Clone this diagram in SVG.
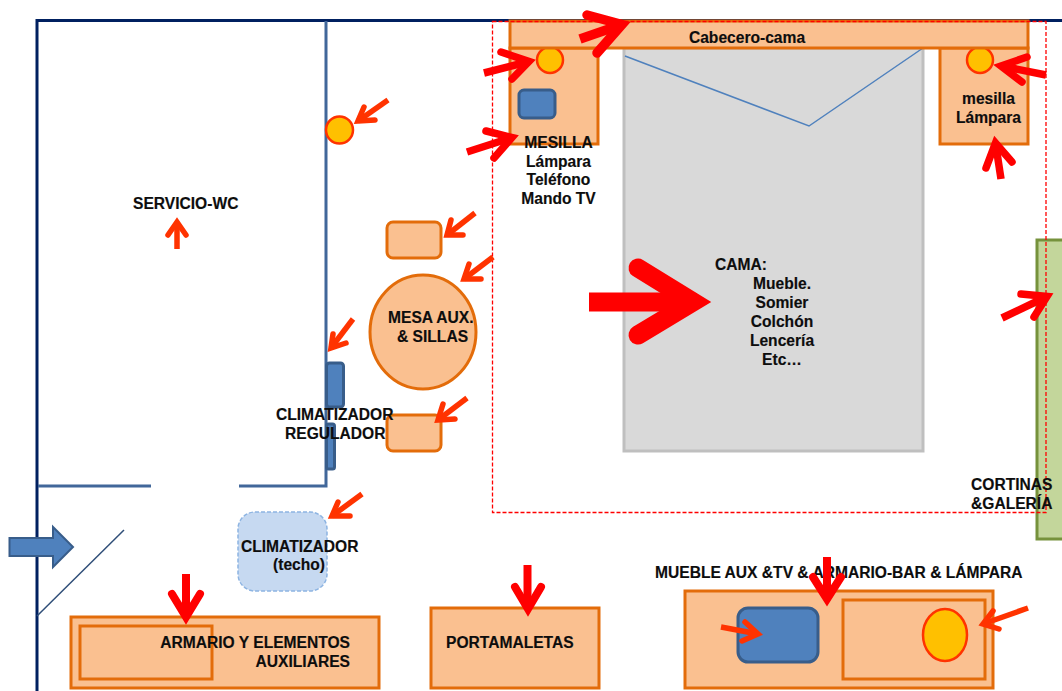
<svg xmlns="http://www.w3.org/2000/svg" width="1062" height="691" viewBox="0 0 1062 691">
<style>
text{font-family:"Liberation Sans",Arial,sans-serif;font-weight:700;font-size:15.6px;fill:#0d0d0d;stroke:#0d0d0d;stroke-width:.15;transform:translateY(.6px)}
.m{text-anchor:middle}
.e{text-anchor:end}
.o{fill:#FAC090;stroke:#E36C0A;stroke-width:3}
.b{fill:#4F81BD;stroke:#385D8A;stroke-width:3}
.y{fill:#FFC000;stroke:#FF3300;stroke-width:2.5}
.wall{fill:none;stroke:#41679A;stroke-width:3}
.ar path{fill:none;stroke-linejoin:miter;stroke-miterlimit:12;stroke-linecap:round}
.ar path.s{stroke-linecap:butt}
.a1{stroke:#FF3300;stroke-width:5.5}
.a2{stroke:#FF0000;stroke-width:7.5}
.a3{stroke:#FF0000;stroke-width:9.5}
.a5{stroke:#FF0000;stroke-width:8}
.a4{stroke:#FF0000;stroke-width:19}
</style>
<rect width="1062" height="691" fill="#fff"/>
<g id="walls">
<path d="M37 691V20.500H1062" fill="none" stroke="#002060" stroke-width="3"/>
<path class="wall" d="M326 21V486H239M151 486H38"/>
<path d="M37 616L124 530" stroke="#2F4E78" stroke-width="1.500" fill="none"/>
</g>
<g id="cama"><rect x="624" y="48" width="299" height="403" fill="#D9D9D9" stroke="#BFBFBF" stroke-width="3"/>
<path d="M625 56L809 126L923 48" fill="none" stroke="#4F81BD" stroke-width="1.500"/>
<text x="715" y="269.500">CAMA:</text>
<text class="m" x="782" y="288.500">Mueble.</text><text class="m" x="782" y="307.500">Somier</text><text class="m" x="782" y="326.500">Colchón</text><text class="m" x="782" y="345">Lencería</text><text class="m" x="782" y="364">Etc…</text></g>
<g id="mesilla-izq"><rect class="o" x="510" y="48" width="88" height="96"/><rect class="b" x="519" y="90" width="36" height="28" rx="5"/><circle class="y" cx="550" cy="60" r="13"/></g>
<g id="mesilla-der"><rect class="o" x="940" y="48" width="88" height="96"/><circle class="y" cx="980" cy="60" r="13"/>
<text class="m" x="988.500" y="103">mesilla</text><text class="m" x="988.500" y="122">Lámpara</text></g>
<g id="cabecero"><rect class="o" x="510" y="21" width="518" height="27"/><text class="m" x="747" y="42">Cabecero-cama</text></g>
<g id="mesilla-texto"><text class="m" x="558.500" y="147">MESILLA</text><text class="m" x="558.500" y="166">Lámpara</text><text class="m" x="558.500" y="184">Teléfono</text><text class="m" x="558.500" y="203">Mando TV</text></g>
<g id="cortinas"><rect x="1037" y="240" width="30" height="299" fill="#C3D69B" stroke="#76923C" stroke-width="3"/></g>
<rect id="zona" x="492.500" y="21.500" width="553.500" height="491" fill="none" stroke="#FF0000" stroke-width="1.300" stroke-dasharray="4 2"/>
<g id="cortinas-texto"><text x="971" y="489">CORTINAS</text><text x="971" y="508">&amp;GALERÍA</text></g>
<g id="servicio"><text x="133" y="208">SERVICIO-WC</text></g>
<g id="punto-luz"><circle class="y" cx="339.500" cy="130" r="13.500"/></g>
<g id="silla-1"><rect class="o" x="387" y="222" width="54" height="36" rx="6"/></g>
<g id="mesa"><ellipse class="o" cx="423" cy="332" rx="53" ry="57"/><text x="388" y="322">MESA AUX.</text><text x="397" y="341">&amp; SILLAS</text></g>
<g id="silla-2"><rect class="o" x="387" y="415" width="54" height="36" rx="6"/></g>
<g id="regulador"><rect class="b" x="326.500" y="363" width="17" height="44" rx="3"/><rect class="b" x="326.500" y="424" width="8" height="45" rx="2"/>
<text x="276" y="419">CLIMATIZADOR</text><text x="285" y="438">REGULADOR</text></g>
<g id="climatizador"><rect x="238" y="512" width="89" height="79" rx="17" fill="#C6D9F1" stroke="#8DB4E2" stroke-width="1.500" stroke-dasharray="4 2"/>
<text x="241" y="551">CLIMATIZADOR</text><text x="273" y="569">(techo)</text></g>
<g id="entrada"><path class="b" d="M9.500 538H53V527L73 547L53 567V556H9.500Z" style="stroke-width:2"/></g>
<g id="armario"><rect class="o" x="71" y="617" width="308" height="71"/><rect class="o" x="80" y="626" width="132" height="53"/>
<text class="e" x="350" y="647">ARMARIO Y ELEMENTOS</text><text class="e" x="350" y="666">AUXILIARES</text></g>
<g id="portamaletas"><rect class="o" x="431" y="608" width="168" height="80"/><text x="446" y="647">PORTAMALETAS</text></g>
<g id="mueble"><rect class="o" x="685" y="591" width="308" height="97"/><rect class="o" x="843" y="600" width="142" height="79"/><rect class="b" x="738" y="608" width="80" height="54" rx="10"/><ellipse class="y" cx="945" cy="635" rx="22" ry="26"/>
<text x="655" y="577">MUEBLE AUX &amp;TV &amp; ARMARIO-BAR &amp; LÁMPARA</text></g>
<g id="connectors" class="ar">
<path class="a3 s" d="M580 39L622 24.500"/><path class="a3" d="M587 15L622 24.500L597 53"/>
<path class="a2 s" d="M484 73L529 61.500"/><path class="a2" d="M501 52L529 61.500L512 79"/>
<path class="a2 s" d="M1046 75L1001 66"/><path class="a2" d="M1027 57L1001 66L1022 82"/>
<path class="a2 s" d="M467 152L512 137.500"/><path class="a2" d="M486 131L512 137.500L494 158"/>
<path class="a2 s" d="M1001 179L995.500 143"/><path class="a2" d="M986 168L995.500 143L1012 162"/>
<path class="a2 s" d="M1002 318L1047 296.500"/><path class="a2" d="M1021 294L1047 296.500L1034 317"/>
<path class="a1 s" d="M388 100L358 121"/><path class="a1" d="M364 107L358 121L375 120"/>
<path class="a1 s" d="M475 213L447 235"/><path class="a1" d="M451 220L447 235L463 235"/>
<path class="a1 s" d="M493 257L464 279"/><path class="a1" d="M469 264L464 279L481 279"/>
<path class="a1 s" d="M353 319L331 348"/><path class="a1" d="M333 334L331 348L346 343"/>
<path class="a1 s" d="M467 398L438 420"/><path class="a1" d="M443 404L438 420L455 419"/>
<path class="a1 s" d="M362 494L332 516"/><path class="a1" d="M338 502L332 516L350 516"/>
<path class="a1 s" d="M177 249V222"/><path class="a1" d="M168 235L177 222L186 235"/>
<path class="a1 s" d="M721 627L758 634"/><path class="a1" d="M745 622L758 634L742 641"/>
<path class="a1 s" d="M1028 608L983 624"/><path class="a1" d="M993 611L983 624L999 629"/>
<path class="a5 s" d="M186 574V617"/><path class="a5" d="M172 594L186 617L200 594"/>
<path class="a5 s" d="M527.500 565V609"/><path class="a5" d="M515 587L528 609L541 587"/>
<path class="a5 s" d="M827 557V599"/><path class="a5" d="M813 577L827 599L841 577"/>
<path class="a4 s" d="M589 302H693"/><path class="a4" d="M638 268L693 302L638 335"/>
</g>
</svg>
